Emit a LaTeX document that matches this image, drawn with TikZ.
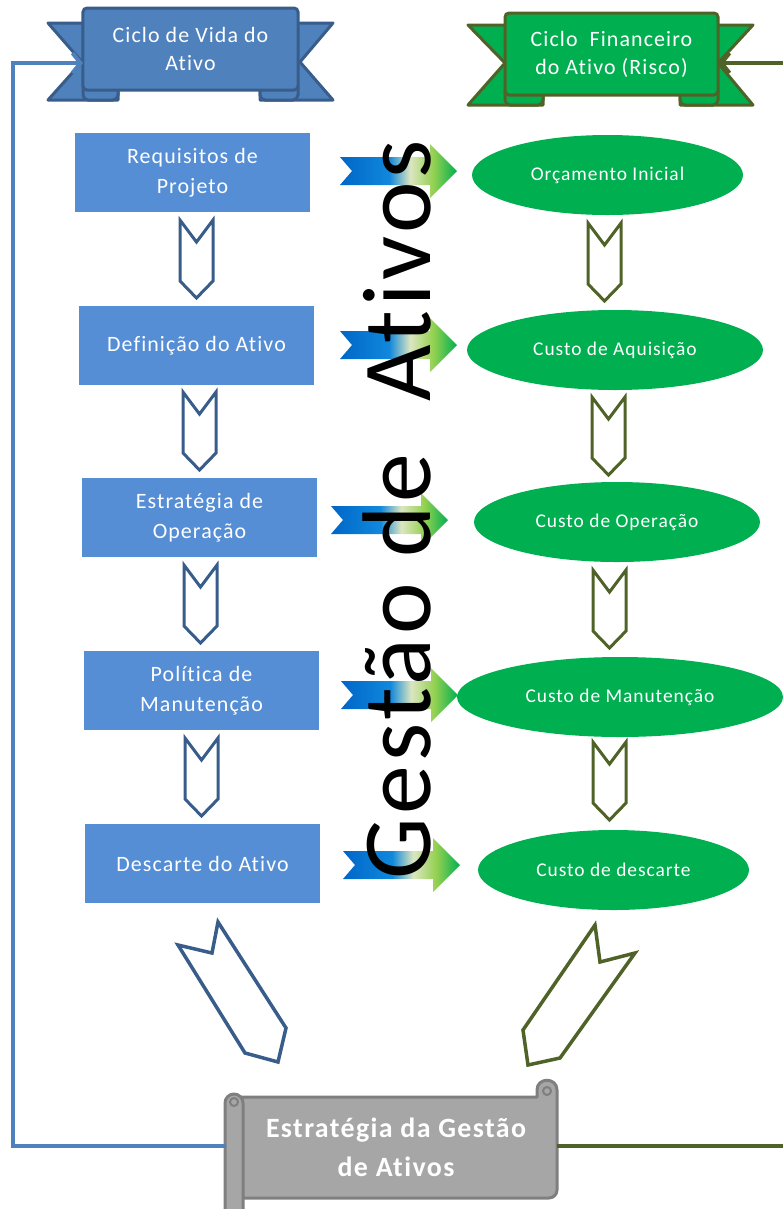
\documentclass[tikz,border=0pt]{standalone}
\usepackage{fontspec}
\setmainfont{Carlito}[LetterSpace=5,Ligatures=NoCommon]
\newfontfamily\bigfont{Carlito}[LetterSpace=4,Ligatures=NoCommon]
\usetikzlibrary{arrows.meta,shapes.geometric}

\definecolor{panelblue}{HTML}{4F81BD}
\definecolor{edgeblue}{HTML}{385D8A}
\definecolor{boxblue}{HTML}{558ED5}
\definecolor{leafgreen}{HTML}{00B050}
\definecolor{olive}{HTML}{4F6228}
\definecolor{scrollfill}{HTML}{A6A6A6}
\definecolor{scrolledge}{HTML}{7F7F7F}
\definecolor{lineblue}{HTML}{4F81BD}
\definecolor{fblue}{HTML}{0066C8}
\definecolor{fblue2}{HTML}{1088DC}
\definecolor{fpale}{HTML}{DCE6C0}
\definecolor{fgreen1}{HTML}{92D050}
\definecolor{fgreen2}{HTML}{00B050}

% gradient of the flow arrows, blue tail to green head
\pgfdeclarehorizontalshading{flowshade}{100bp}{color(0bp)=(fblue); color(25bp)=(fblue); color(46bp)=(fblue2); color(55bp)=(fpale); color(65bp)=(fgreen1); color(75bp)=(fgreen2); color(100bp)=(fgreen2)}

\tikzset{
  stage/.style={rectangle, fill=boxblue, minimum width=235bp, minimum height=79bp,
    text=white, align=center, inner sep=0pt, font=\fontsize{22}{30}\selectfont},
  cost/.style={ellipse, fill=leafgreen, minimum height=80bp, text=white,
    inner sep=0pt, font=\fontsize{19.5}{22}\selectfont},
  bannerpanel/.style={rectangle, rounded corners=4bp, line width=3bp,
    minimum height=82bp, text=white, align=center, inner sep=0pt,
    font=\fontsize{22}{28}\selectfont},
  ribbon/.style={line width=3bp, line join=round},
  chev/.pic={\draw[pic actions, line width=3bp, fill=white, line join=miter]
    (0,0) -- (16.5,22) -- (33,0) -- (33,61) -- (16.5,78) -- (0,61) -- cycle;},
  flow/.pic={\shade[shading=flowshade]
    (0,0) -- (-27,-27) -- (-27,-14) -- (-117,-14) -- (-105,0) -- (-117,14)
    -- (-27,14) -- (-27,27) -- cycle;},
  bigchev/.style={line width=3.5bp, fill=white, line join=miter},
  scrollpart/.style={fill=scrollfill, draw=scrolledge, line width=3bp, line join=round},
  lifeline/.style={draw=lineblue, line width=4bp,
    -{Straight Barb[length=8bp,width=20bp]}},
  finline/.style={draw=olive, line width=4bp,
    -{Straight Barb[length=8bp,width=20bp]}},
}

\begin{document}
\begin{tikzpicture}[x=1bp,y=-1bp]
\useasboundingbox (0,0) rectangle (783,1209);

% ---- asset life cycle banner ----
\begin{scope}[ribbon, draw=edgeblue, fill=panelblue]
  \filldraw (48,23) -- (118,23) -- (118,100) -- (48,100) -- (82,62) -- cycle;
  \filldraw (333,23) -- (260,23) -- (260,100) -- (333,100) -- (300,62) -- cycle;
  \filldraw[rounded corners=5bp] (83,82) rectangle (118,100);
  \filldraw[rounded corners=5bp] (260,82) rectangle (298,100);
\end{scope}
\node[bannerpanel, draw=edgeblue, fill=panelblue, minimum width=215bp]
  (life) at (190.5,49) {Ciclo de Vida do\\Ativo};

% ---- financial cycle banner ----
\begin{scope}[ribbon, draw=olive, fill=leafgreen]
  \filldraw (468,25) -- (543,25) -- (543,105) -- (468,105) -- (505,63) -- cycle;
  \filldraw (753,25) -- (680,25) -- (680,105) -- (753,105) -- (718,63) -- cycle;
  \filldraw[rounded corners=5bp] (505,86) rectangle (543,105);
  \filldraw[rounded corners=5bp] (680,86) rectangle (718,105);
\end{scope}
\node[bannerpanel, draw=olive, fill=leafgreen, minimum width=213bp]
  (fin) at (611.5,54) {Ciclo\ \ Financeiro\\do Ativo (Risco)};

% ---- life cycle stages ----
\node[stage] (req)  at (192.5,172.5) {Requisitos de\\Projeto};
\node[stage] (def)  at (196.5,345.5) {Definição do Ativo};
\node[stage] (oper) at (199.5,517.5) {Estratégia de\\Operação};
\node[stage] (pol)  at (201.5,690.5) {Política de\\Manutenção};
\node[stage] (disc) at (202.5,863.5) {Descarte do Ativo};

% ---- cost ellipses ----
\node[cost, minimum width=271bp] (budget) at (607.5,175) {Orçamento Inicial};
\node[cost, minimum width=296bp] (acq)    at (615,350)   {Custo de Aquisição};
\node[cost, minimum width=286bp] (opc)    at (617,522)   {Custo de Operação};
\node[cost, minimum width=326bp] (mnt)    at (620,697)   {Custo de Manutenção};
\node[cost, minimum width=271bp] (dsc)    at (613.5,870) {Custo de descarte};

% ---- chevrons between steps ----
\pic[draw=edgeblue] at (180,220) {chev};
\pic[draw=edgeblue] at (183,392) {chev};
\pic[draw=edgeblue] at (184,565) {chev};
\pic[draw=edgeblue] at (185,738) {chev};
\pic[draw=olive] at (588,223) {chev};
\pic[draw=olive] at (592,397) {chev};
\pic[draw=olive] at (593,570) {chev};
\pic[draw=olive] at (593,742) {chev};

% ---- flow arrows from stages to costs ----
\pic at (457,171) {flow};
\pic at (457,345) {flow};
\pic at (448,520) {flow};
\pic at (458,695) {flow};
\pic at (460,865) {flow};

% ---- converging arrows towards the strategy ----
\draw[bigchev, draw=edgeblue] (178,945) -- (212,953) -- (218,922) -- (286,1028)
  -- (278,1062) -- (245,1053) -- cycle;
\draw[bigchev, draw=olive] (595,925) -- (600,962) -- (635,953) -- (560,1058)
  -- (528,1065) -- (523,1030) -- cycle;

% ---- strategy scroll ----
\draw[scrollpart] (236,1097) -- (537,1097) -- (537,1090)
  .. controls (537,1077) and (557,1077) .. (557,1090)
  [rounded corners=8bp] -- (557,1198) -- (236,1198) [sharp corners] -- cycle;
\draw[scrollpart, line width=2bp] (547,1091) circle[radius=4bp];
\draw[scrollpart, rounded corners=9bp] (225,1094) rectangle (243,1220);
\draw[scrollpart, line width=2bp] (234,1102) circle[radius=4bp];
\node[text=white, align=center, inner sep=0pt,
  font=\fontsize{28}{39}\selectfont\bfseries] (strat) at (396,1147)
  {Estratégia da Gestão\\de Ativos};
\coordinate (stratW) at (226,1146);
\coordinate (stratE) at (557,1146);

% ---- feedback lines to the banners ----
\coordinate (lifeIn) at (83,63);
\coordinate (finIn) at (719,63);
\draw[lifeline] (stratW) -- (13,1146) |- (lifeIn);
\draw[finline] (stratE) -- (800,1146) |- (finIn);

% ---- vertical title ----
\node[rotate=90, anchor=base west, inner sep=0pt,
  font=\bigfont\fontsize{98}{98}\selectfont] (title) at (430,880)
  {Gestão de\ \ Ativos};
\end{tikzpicture}
\end{document}
